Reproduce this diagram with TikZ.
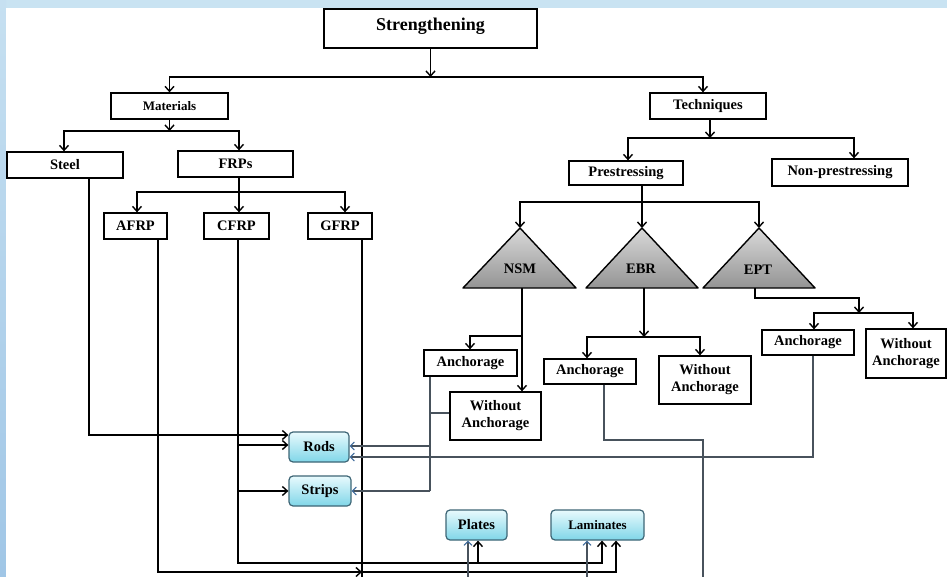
\documentclass[tikz,border=0pt]{standalone}
\usepackage{fontspec}
\setmainfont{Liberation Serif}
\usetikzlibrary{arrows.meta,calc}
\definecolor{bgblue}{RGB}{201,227,242}
\definecolor{stripTop}{RGB}{198,224,241}
\definecolor{stripBot}{RGB}{160,198,230}
\definecolor{cyanlight}{RGB}{232,250,253}
\definecolor{cyandark}{RGB}{128,214,232}
\definecolor{rborder}{RGB}{62,102,118}
\definecolor{glinec}{RGB}{72,82,92}
\definecolor{gtip}{RGB}{60,105,155}
\newcommand{\fsz}[1]{\fontsize{#1}{17}\selectfont\bfseries}
\begin{document}
\begin{tikzpicture}[x=1pt,y=-1pt,
  box/.style={draw=black, line width=1.3pt, fill=white, inner sep=0pt, font=\fsz{14.5}, align=center},
  rbox/.style={draw=rborder, line width=1.2pt, rounded corners=4pt, top color=cyanlight, bottom color=cyandark, inner sep=0pt, minimum height=30, font=\fsz{14.5}},
  ln/.style={draw=black, line width=1.4pt},
  arr/.style={ln, -{Straight Barb[length=5pt,width=9pt,line width=1.4pt]}},
  gln/.style={draw=glinec, line width=1.2pt},
  garr/.style={gln, -{Straight Barb[length=4pt,width=8pt,line width=1pt,color=gtip]}},
  tri/.style={draw=black, line width=1.4pt, line join=round, top color=black!15, bottom color=black!42}
]
\useasboundingbox (0,0) rectangle (947,577);
\fill[bgblue] (0,0) rectangle (947,577);
\shade[top color=stripTop, bottom color=stripBot] (0,0) rectangle (6,577);
\fill[white] (6,8) rectangle (947,577);

% --- boxes ---
\node[box, minimum width=213, minimum height=39, font=\fsz{18}, text height=13pt, text depth=8pt] (str) at (430.5,28.5) {Strengthening};
\node[box, minimum width=117, minimum height=26, font=\fsz{13}] (mat) at (169.5,106) {Materials};
\node[box, minimum width=116, minimum height=26] (tech) at (708,106) {Techniques};
\node[box, minimum width=116, minimum height=26] (steel) at (65,165) {Steel};
\node[box, minimum width=115, minimum height=26] (frps) at (235.5,164) {FRPs};
\node[box, minimum width=63, minimum height=26] (afrp) at (135.5,226) {AFRP};
\node[box, minimum width=65, minimum height=26] (cfrp) at (236.5,226) {CFRP};
\node[box, minimum width=64, minimum height=26] (gfrp) at (340,226) {GFRP};
\node[box, minimum width=114, minimum height=24] (pre) at (626,173) {Prestressing};
\node[box, minimum width=136, minimum height=27] (nonpre) at (840,172.5) {Non-prestressing};

% --- triangles ---
\coordinate (nsmtop) at (520,228);
\coordinate (ebrtop) at (642,228);
\coordinate (epttop) at (759,228);
\path[tri] (463,288) -- (nsmtop) -- (576,288) -- cycle;
\path[tri] (586,288) -- (ebrtop) -- (698,288) -- cycle;
\path[tri] (703,288) -- (epttop) -- (815,288) -- cycle;
\node[font=\fsz{14.5}] (nsm) at (520,269) {NSM};
\node[font=\fsz{14.5}] (ebr) at (641,269) {EBR};
\node[font=\fsz{14.5}] (ept) at (758,270) {EPT};
\coordinate (nsmbase) at (522,288);
\coordinate (ebrbase) at (644,288);
\coordinate (eptbase) at (755,288);

\node[box, minimum width=93, minimum height=26] (nsmA) at (470.5,363) {Anchorage};
\node[box, minimum width=91, minimum height=48] (nsmW) at (495.5,416) {Without\\Anchorage};
\node[box, minimum width=92, minimum height=25] (ebrA) at (590,371.5) {Anchorage};
\node[box, minimum width=92, minimum height=48] (ebrW) at (705,380) {Without\\Anchorage};
\node[box, minimum width=92, minimum height=25] (eptA) at (808,342.5) {Anchorage};
\node[box, minimum width=80, minimum height=49] (eptW) at (906,353.5) {Without\\Anchorage};

\node[rbox, minimum width=60] (rods) at (319,447) {Rods};
\node[rbox, minimum width=62] (strips) at (320,491) {Strips};
\node[rbox, minimum width=61] (plates) at (476.5,525) {Plates};
\node[rbox, minimum width=93, font=\fsz{13}] (lam) at (597.5,525) {Laminates};

% --- tree connectors ---
\coordinate (j1) at (430.5,77);
\draw[arr] (str.south) -- (j1);
\draw[arr] (j1) -| (mat.north);
\draw[arr] (j1) -| ([xshift=-5pt]tech.north);

\coordinate (j2) at (169.5,131);
\draw[arr] (mat.south) -- (j2);
\draw[arr] (j2) -| ([xshift=-1pt]steel.north);
\draw[arr] (j2) -| ([xshift=3.5pt]frps.north);

\coordinate (j3) at (239,192);
\draw[arr] ([xshift=3.5pt]frps.south) -- ([xshift=2.5pt]cfrp.north);
\draw[arr] (j3) -| ([xshift=1.5pt]afrp.north);
\draw[arr] (j3) -| ([xshift=5pt]gfrp.north);

\coordinate (j4) at (710,138);
\draw[arr] ([xshift=2pt]tech.south) -- (j4);
\draw[arr] (j4) -| ([xshift=2pt]pre.north);
\draw[arr] (j4) -| ([xshift=14pt]nonpre.north);

\coordinate (j5) at (642,202);
\draw[arr] ([xshift=16pt]pre.south) -- (ebrtop);
\draw[arr] (j5) -| (nsmtop);
\draw[arr] (j5) -| (epttop);

\coordinate (j6) at (522,336);
\draw[arr] (nsmbase) -- ([xshift=26.5pt]nsmW.north);
\draw[arr] (j6) -| ([xshift=-0.5pt]nsmA.north);

\coordinate (j7) at (644,337);
\draw[arr] (ebrbase) -- (j7);
\draw[arr] (j7) -| ([xshift=-3pt]ebrA.north);
\draw[arr] (j7) -| ([xshift=-5pt]ebrW.north);

\coordinate (j8) at (859,313);
\draw[arr] (eptbase) -- ++(0,10) -| (j8);
\draw[arr] (j8) -| ([xshift=6pt]eptA.north);
\draw[arr] (j8) -| ([xshift=7pt]eptW.north);

% --- material connectors ---
\draw[arr] ([xshift=24pt]steel.south) |- ([yshift=12pt]rods.west);
\coordinate (cb) at (238,563);
\coordinate (c1) at (238,445);
\coordinate (c2) at (238,491);
\draw[arr] ([xshift=1.5pt]cfrp.south) -- (cb) -| ([xshift=4.5pt]lam.south);
\draw[arr] (c1) -- ([yshift=2pt]rods.west);
\draw[arr] (c2) -- (strips.west);
\draw[arr] (cb) -| ([xshift=1.5pt]plates.south);

\coordinate (g1) at (362,572);
\coordinate (gend) at (362,577);
\draw[arr] ([xshift=22.5pt]afrp.south) |- (g1);
\draw[arr] (g1) -| ([xshift=18.5pt]lam.south);
\draw[ln] ([xshift=22pt]gfrp.south) -- (gend);

% --- grey anchorage connectors ---
\coordinate (n1) at (430,446);
\coordinate (n2) at (430,491);
\coordinate (n3) at (430,413);
\draw[gln] ([xshift=-40.5pt]nsmA.south) -- (n2);
\draw[garr] (n2) -- (strips.east);
\draw[garr] (n1) -- ([yshift=1pt]rods.east);
\draw[gln] (n3) -- ([yshift=3pt]nsmW.west);
\draw[garr] ([xshift=5pt]eptA.south) |- ([yshift=-10pt]rods.east);
\coordinate (e0) at (703,440);
\coordinate (e1) at (703,577);
\draw[gln] ([xshift=14pt]ebrA.south) |- (e0) -- (e1);
\coordinate (p0) at (468,577);
\coordinate (l0) at (587,577);
\draw[garr] (p0) -- ([xshift=-8.5pt]plates.south);
\draw[garr] (l0) -- ([xshift=-10.5pt]lam.south);
\end{tikzpicture}
\end{document}
